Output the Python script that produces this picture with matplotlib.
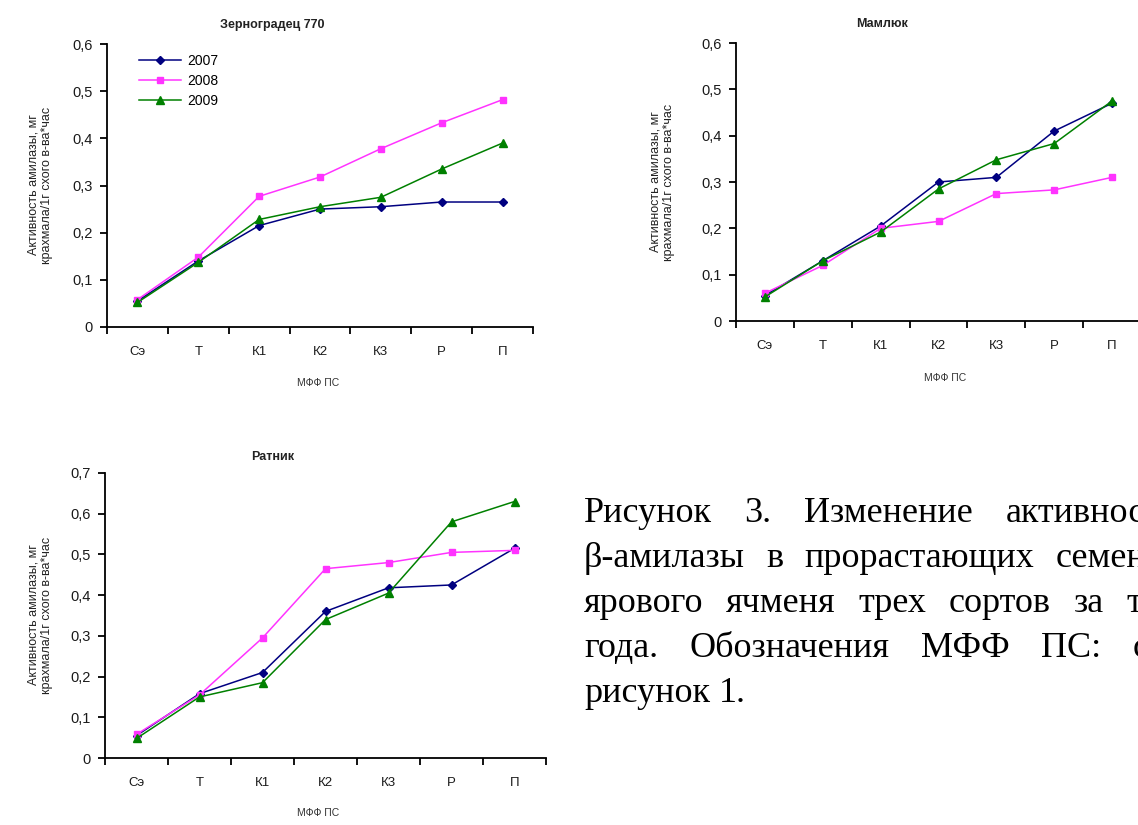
import numpy as np
import matplotlib
matplotlib.use('Agg')
from matplotlib import pyplot as plt

#%% data
stages = ['Сэ', 'Т', 'К1', 'К2', 'К3', 'Р', 'П']
years = ['2007', '2008', '2009']

zern_2007 = [0.055, 0.140, 0.215, 0.250, 0.255, 0.265, 0.265]
zern_2008 = [0.058, 0.148, 0.277, 0.318, 0.378, 0.433, 0.482]
zern_2009 = [0.052, 0.137, 0.228, 0.255, 0.275, 0.335, 0.390]

maml_2007 = [0.055, 0.130, 0.205, 0.300, 0.310, 0.410, 0.470]
maml_2008 = [0.060, 0.120, 0.200, 0.215, 0.275, 0.283, 0.310]
maml_2009 = [0.052, 0.130, 0.192, 0.285, 0.348, 0.383, 0.475]

ratn_2007 = [0.055, 0.158, 0.210, 0.360, 0.418, 0.425, 0.515]
ratn_2008 = [0.058, 0.155, 0.295, 0.465, 0.480, 0.505, 0.510]
ratn_2009 = [0.048, 0.150, 0.185, 0.340, 0.405, 0.580, 0.630]

caption = ['Рисунок 3. Изменение активности',
           'β-амилазы в прорастающих семенах',
           'ярового ячменя трех сортов за три',
           'года. Обозначения МФФ ПС: см.',
           'рисунок 1.']

ylab = 'Активность амилазы, мг\nкрахмала/1г схого в-ва*час'

#%% style
W, H = 1138, 825
plt.rcParams['font.family'] = ['Liberation Sans', 'DejaVu Sans']
fig = plt.figure(figsize=(W / 100, H / 100), dpi=100)

styles = [dict(color='#000080', marker='D', ms=4, lw=1.1),
          dict(color='#ff33ff', marker='s', ms=5, lw=1.1),
          dict(color='#008000', marker='^', ms=6, lw=1.1)]

def px(x0, y0, x1, y1):
    # pixel box (left, top, right, bottom) -> figure fraction
    return [x0 / W, 1 - y1 / H, (x1 - x0) / W, (y1 - y0) / H]

def panel(box, series, ymax, title, tpos, ypos, xpos, legend=False):
    ax = fig.add_axes(px(*box))
    x = np.arange(len(stages))
    for lab, vals, st in zip(years, series, styles):
        ax.plot(x, vals, label=lab, **st)
    ax.set_xlim(-0.5, len(stages) - 0.5)
    ax.set_ylim(0, ymax)
    ax.set_xticks(x)
    ax.set_xticklabels(stages)
    ax.set_xticks(np.arange(-0.5, len(stages)), minor=True)
    ax.tick_params(axis='x', which='major', length=0, pad=14, labelsize=9.5)
    ax.tick_params(axis='x', which='minor', length=5, width=1.3, direction='out')
    yt = np.round(np.arange(0, ymax + 0.001, 0.1), 1)
    ax.set_yticks(yt)
    ax.set_yticklabels(['0' if v == 0 else ('%.1f' % v).replace('.', ',') for v in yt])
    ax.tick_params(axis='y', length=5, width=1.3, direction='out', pad=5, labelsize=10.5)
    ax.tick_params(axis='both', which='both', colors='black', labelcolor='#1a1a1a')
    for s in ['top', 'right']:
        ax.spines[s].set_visible(False)
    for s in ['left', 'bottom']:
        ax.spines[s].set_linewidth(1.3)
    ax.patch.set_alpha(0)
    fig.text(tpos[0] / W, 1 - tpos[1] / H, title, ha='center', va='center',
             fontsize=9, fontweight='bold', color='#222222')
    fig.text(ypos[0] / W, 1 - ypos[1] / H, ylab, ha='center', va='center',
             rotation=90, fontsize=9, linespacing=1.2, color='#222222')
    fig.text(xpos[0] / W, 1 - xpos[1] / H, 'МФФ ПС', ha='center', va='center',
             fontsize=7.5, color='#333333')
    if legend:
        ax.legend(loc='upper left', bbox_to_anchor=(0.075, 0.965), frameon=False,
                  fontsize=10, handlelength=3.0, handletextpad=0.5,
                  labelspacing=0.42, borderpad=0, borderaxespad=0)
    return ax

panel((107, 44, 533, 327), [zern_2007, zern_2008, zern_2009], 0.6,
      'Зерноградец 770', (272, 25), (40, 185), (318, 383), legend=True)
panel((736, 43, 1141, 321), [maml_2007, maml_2008, maml_2009], 0.6,
      'Мамлюк', (882, 24), (662, 182), (945, 378))
panel((105, 473, 546, 758), [ratn_2007, ratn_2008, ratn_2009], 0.7,
      'Ратник', (273, 457), (40, 615), (318, 813))

#%% justified caption, runs past the right edge like the cropped page
fig.canvas.draw()
r = fig.canvas.get_renderer()
x0, right = 584, 1180
for i, line in enumerate(caption):
    yb = 522 + 45 * i
    words = line.split()
    tx = [fig.text(0, 0, w, fontsize=26, family='Liberation Serif',
                   va='baseline', ha='left') for w in words]
    wd = [t.get_window_extent(r).width for t in tx]
    if i == len(caption) - 1 or len(words) < 2:
        gap = 9
    else:
        gap = (right - x0 - sum(wd)) / (len(words) - 1)
    xc = x0
    for t, w in zip(tx, wd):
        t.set_position((xc / W, 1 - yb / H))
        xc += w + gap

fig.savefig('out.png', dpi=100)
